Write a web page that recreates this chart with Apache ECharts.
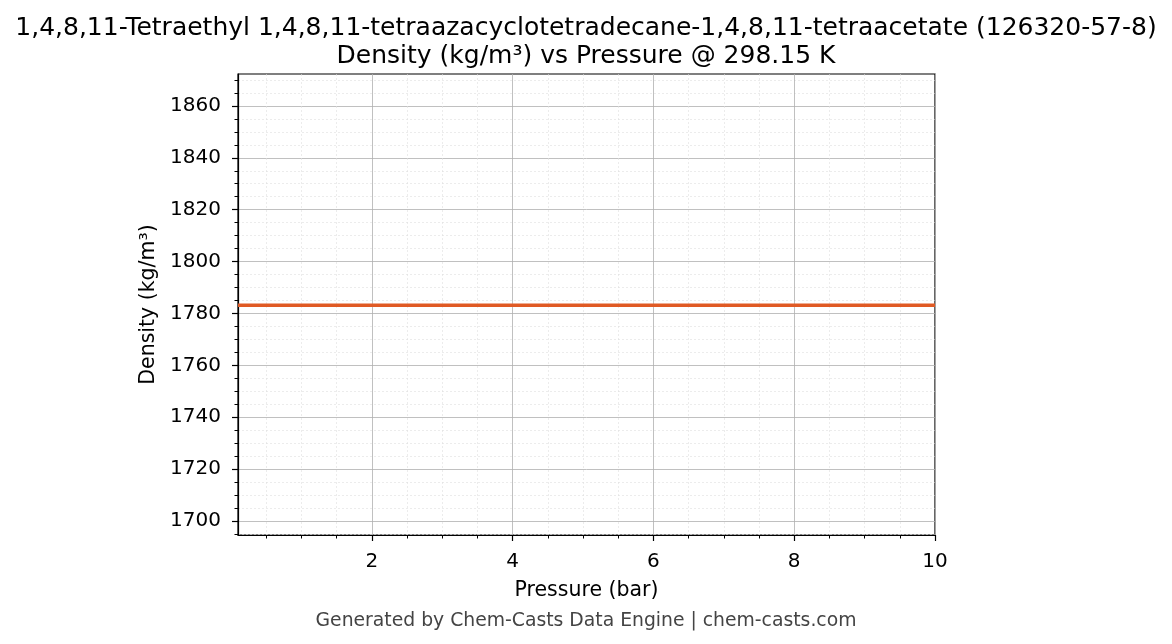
<!DOCTYPE html>
<html><head><meta charset="utf-8">
<script src="https://cdn.jsdelivr.net/npm/echarts@6/dist/echarts.min.js"></script>
<style>html,body{margin:0;padding:0;background:#fff}#c{width:1172px;height:644px}</style>
</head><body><div id="c"></div>
<script>
const pressures = [0.1, 1, 2, 3, 4, 5, 6, 7, 8, 9, 10];
const densities = [1783.2, 1783.2, 1783.2, 1783.2, 1783.2, 1783.2, 1783.2, 1783.2, 1783.2, 1783.2, 1783.2];
const xMajorTicks = [2, 4, 6, 8, 10];
const xMinorTicks = [0.5, 1, 1.5, 2.5, 3, 3.5, 4.5, 5, 5.5, 6.5, 7, 7.5, 8.5, 9, 9.5];
const yMajorTicks = [1700, 1720, 1740, 1760, 1780, 1800, 1820, 1840, 1860];
const yMinorTicks = [1695, 1705, 1710, 1715, 1725, 1730, 1735, 1745, 1750, 1755, 1765, 1770, 1775, 1785, 1790, 1795, 1805, 1810, 1815, 1825, 1830, 1835, 1845, 1850, 1855, 1865, 1870];
const xRange = [0.1, 10];
const yRange = [1694.6, 1872.3];

const FONT = 'DejaVu Sans';
const chart = echarts.init(document.getElementById('c'), null, {renderer: 'canvas'});
const minorAxisCommon = {
  type: 'value',
  axisLine: {show: false}, axisLabel: {show: false},
  splitLine: {show: true, lineStyle: {color: '#e0e0e0', width: 0.6, type: [2, 2]}},
};
chart.setOption({
  animation: false,
  backgroundColor: '#fff',
  title: [
    {text: '1,4,8,11-Tetraethyl 1,4,8,11-tetraazacyclotetradecane-1,4,8,11-tetraacetate (126320-57-8)\nDensity (kg/m³) vs Pressure @ 298.15 K',
     left: 586, top: 14, textAlign: 'center', padding: 0,
     textStyle: {fontFamily: FONT, fontSize: 25, fontWeight: 'normal', color: '#000', lineHeight: 28}},
    {text: 'Generated by Chem-Casts Data Engine | chem-casts.com', left: 586, top: 612, textAlign: 'center', padding: 0,
     textStyle: {fontFamily: FONT, fontSize: 18.8, fontWeight: 'normal', color: '#444'}}
  ],
  grid: {left: 238, top: 74, right: 237, bottom: 109, show: true, borderColor: '#000', borderWidth: 1.2, backgroundColor: 'transparent', containLabel: false},
  xAxis: [
    Object.assign({}, minorAxisCommon, {min: xRange[0], max: xRange[1], interval: 0.5, position: 'bottom',
      axisTick: {show: true, customValues: xMinorTicks, length: 3.5, lineStyle: {color: '#000', width: 1}}}),
    {type: 'value', min: xRange[0], max: xRange[1], interval: 2, position: 'bottom',
     name: 'Pressure (bar)', nameLocation: 'middle', nameGap: 45,
     nameTextStyle: {fontFamily: FONT, fontSize: 20.5, color: '#000'},
     axisLine: {show: true, lineStyle: {color: '#000', width: 1.2}},
     axisTick: {show: true, customValues: xMajorTicks, length: 6, lineStyle: {color: '#000', width: 1.2}},
     axisLabel: {customValues: xMajorTicks, margin: 17, fontFamily: FONT, fontSize: 20, color: '#000', formatter: v => String(v)},
     splitLine: {show: true, lineStyle: {color: '#b0b0b0', width: 0.8}}}
  ],
  yAxis: [
    Object.assign({}, minorAxisCommon, {min: yRange[0], max: yRange[1], interval: 5, position: 'left',
      axisTick: {show: true, customValues: yMinorTicks, length: 3.5, lineStyle: {color: '#000', width: 1}}}),
    {type: 'value', min: yRange[0], max: yRange[1], interval: 20, position: 'left',
     name: 'Density (kg/m³)', nameLocation: 'middle', nameGap: 79, nameRotate: 90,
     nameTextStyle: {fontFamily: FONT, fontSize: 20.5, color: '#000'},
     axisLine: {show: true, lineStyle: {color: '#000', width: 1.2}},
     axisTick: {show: true, customValues: yMajorTicks, length: 6, lineStyle: {color: '#000', width: 1.2}},
     axisLabel: {customValues: yMajorTicks, margin: 17, fontFamily: FONT, fontSize: 20, color: '#000', formatter: v => String(v)},
     splitLine: {show: true, lineStyle: {color: '#b0b0b0', width: 0.8}}}
  ],
  series: [{
    type: 'line', xAxisIndex: 1, yAxisIndex: 1,
    data: pressures.map((p, i) => [p, densities[i]]),
    showSymbol: false, symbol: 'none',
    lineStyle: {color: '#e05a24', width: 3.5}, z: 10
  }]
});
</script></body></html>
